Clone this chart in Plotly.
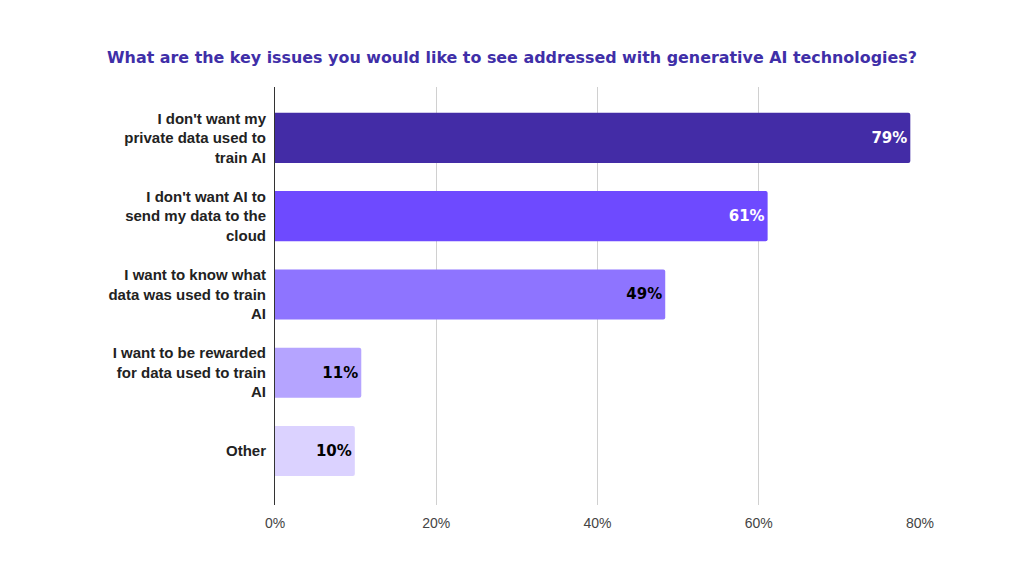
import plotly.graph_objects as go

categories = [
    "I don't want my<br>private data used to<br>train AI",
    "I don't want AI to<br>send my data to the<br>cloud",
    "I want to know what<br>data was used to train<br>AI",
    "I want to be rewarded<br>for data used to train<br>AI",
    "Other",
]
values = [78.8, 61.1, 48.4, 10.7, 9.9]
labels = ["79%", "61%", "49%", "11%", "10%"]
bar_colors = ["#432ca6", "#6e4aff", "#8e74ff", "#b5a4ff", "#dbd2ff"]
label_colors = ["white", "white", "black", "black", "black"]
tick_vals = [0, 20, 40, 60, 80]
tick_text = ["0%", "20%", "40%", "60%", "80%"]

fig = go.Figure(go.Bar(
    x=values,
    y=categories,
    orientation="h",
    marker=dict(color=bar_colors, line=dict(width=0)),
    text=labels,
    textposition="inside",
    insidetextanchor="end",
    textangle=0,
    textfont=dict(family="DejaVu Sans", size=15, color=label_colors, weight="bold"),
    width=0.64,
))

# the page adds ~8px body margin, so margins are shifted to compensate
fig.update_layout(
    width=1024,
    height=576,
    plot_bgcolor="white",
    paper_bgcolor="white",
    margin=dict(l=267, r=112, t=79, b=79),
    barcornerradius=2,
    showlegend=False,
    title=dict(
        text="What are the key issues you would like to see addressed with generative AI technologies?",
        x=504 / 1024,
        xanchor="center",
        xref="container",
        y=1 - 49 / 576,
        yanchor="middle",
        font=dict(family="DejaVu Sans", size=15.9, color="#3f2fa8", weight="bold"),
    ),
)

fig.update_xaxes(
    range=[0, 80],
    tickvals=tick_vals,
    ticktext=tick_text,
    showgrid=True,
    gridcolor="#d0d0d0",
    gridwidth=1,
    zeroline=False,
    showline=False,
    tickfont=dict(family="Liberation Sans", size=14, color="#444444"),
    ticks="",
    ticklabelstandoff=8,
)

fig.update_yaxes(
    range=[4.69, -0.65],
    autorange=False,
    showline=True,
    linecolor="#333333",
    linewidth=1,
    showgrid=False,
    ticks="",
    ticklabelstandoff=5,
    tickfont=dict(family="Liberation Sans", size=15, color="#222222", weight="bold"),
)

fig.write_html("out.html")
